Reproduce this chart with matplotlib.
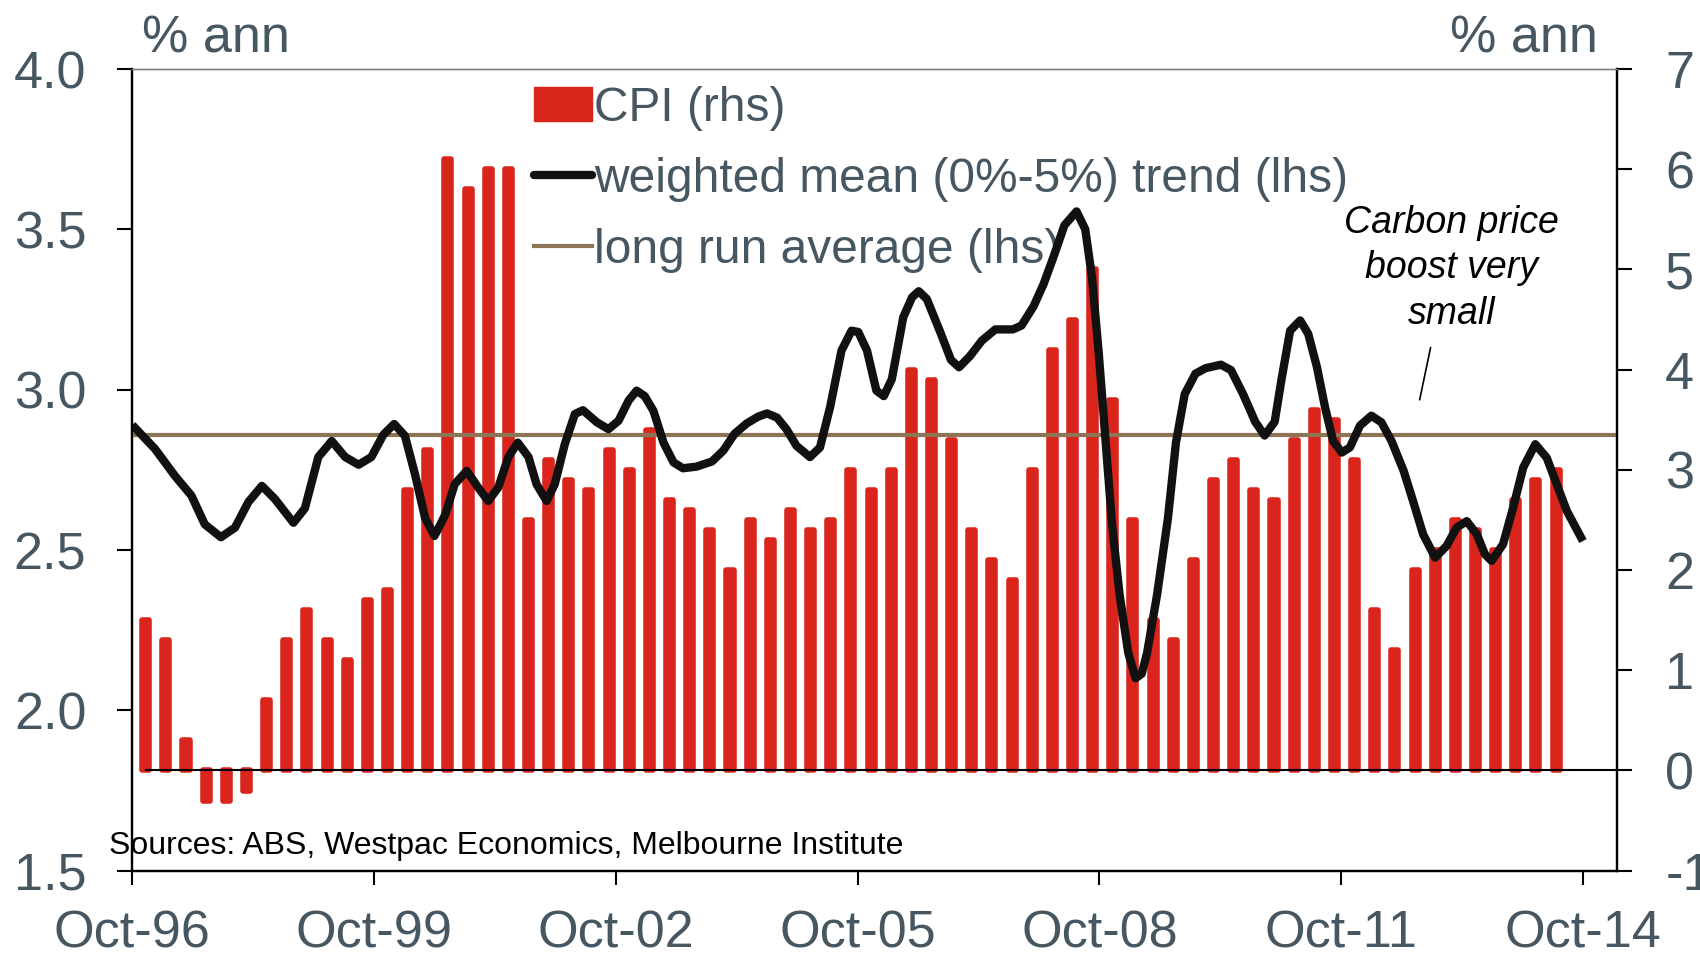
"""
inflation.py

Plot annual CPI against the weighted mean trend inflation gauge.
"""
import numpy as np
import pandas as pd
from matplotlib import pyplot as plt
from matplotlib import ticker
from matplotlib.lines import Line2D
from matplotlib.patches import Patch

plt.rcParams["font.family"] = "Liberation Sans"
plt.rcParams["axes.unicode_minus"] = False

text_colour = "#475762"
cpi_colour = "#da251d"
trend_colour = "#111111"
average_colour = "#8c7455"

long_run_average = 2.86
x_max = 221  # months after Oct-96 at the right edge

# annual CPI (% ann), quarterly from Dec-96 to Jun-14
cpi = pd.Series(
    [1.5, 1.3, 0.3, -0.3, -0.3, -0.2, 0.7, 1.3, 1.6, 1.3, 1.1, 1.7, 1.8, 2.8,
     3.2, 6.1, 5.8, 6.0, 6.0, 2.5, 3.1, 2.9, 2.8, 3.2, 3.0, 3.4, 2.7, 2.6,
     2.4, 2.0, 2.5, 2.3, 2.6, 2.4, 2.5, 3.0, 2.8, 3.0, 4.0, 3.9, 3.3, 2.4,
     2.1, 1.9, 3.0, 4.2, 4.5, 5.0, 3.7, 2.5, 1.5, 1.3, 2.1, 2.9, 3.1, 2.8,
     2.7, 3.3, 3.6, 3.5, 3.1, 1.6, 1.2, 2.0, 2.2, 2.5, 2.4, 2.2, 2.7, 2.9,
     3.0]
)
cpi.index = np.arange(len(cpi)) * 3 + 2  # Dec-96 is two months after Oct-96

trend = pd.DataFrame(
    [(0, 2.89), (3.4, 2.815), (6.4, 2.73), (8.8, 2.67), (10.8, 2.58),
     (13.2, 2.54), (15.3, 2.57), (17.3, 2.65), (19.3, 2.70), (21.2, 2.66),
     (24.0, 2.585), (25.7, 2.63), (27.7, 2.79), (29.7, 2.84), (31.7, 2.79),
     (33.7, 2.766), (35.6, 2.79), (37.4, 2.86), (39.0, 2.893), (40.6, 2.856),
     (42.1, 2.736), (43.6, 2.60), (45.0, 2.544), (46.6, 2.61), (48.0, 2.705),
     (49.8, 2.747), (51.5, 2.695), (53.0, 2.653), (54.5, 2.695), (56.0, 2.79),
     (57.4, 2.835), (59.0, 2.79), (60.2, 2.705), (61.7, 2.653), (62.9, 2.705),
     (64.4, 2.83), (65.9, 2.924), (67.1, 2.936), (69.2, 2.898), (70.9, 2.877),
     (72.4, 2.903), (73.9, 2.966), (75.1, 2.997), (76.3, 2.98), (77.6, 2.934),
     (79.1, 2.835), (80.6, 2.773), (82.0, 2.755), (84.0, 2.76), (86.3, 2.776),
     (88.0, 2.81), (89.7, 2.863), (91.5, 2.895), (93.2, 2.916), (94.5, 2.926),
     (96.0, 2.913), (97.4, 2.877), (98.9, 2.825), (100.9, 2.79), (102.4, 2.82),
     (103.9, 2.945), (105.6, 3.122), (107.1, 3.184), (108.1, 3.18),
     (109.4, 3.122), (110.8, 2.997), (111.9, 2.98), (113.1, 3.033),
     (114.8, 3.226), (116.1, 3.288), (117.1, 3.307), (118.3, 3.283),
     (120.3, 3.18), (121.9, 3.093), (123.1, 3.07), (124.7, 3.104),
     (126.5, 3.153), (128.5, 3.188), (131.1, 3.188), (132.4, 3.20),
     (134.2, 3.26), (135.7, 3.33), (137.2, 3.416), (138.8, 3.513),
     (140.6, 3.556), (141.9, 3.50), (142.9, 3.35), (143.9, 3.115),
     (144.9, 2.846), (145.9, 2.577), (147.0, 2.362), (148.3, 2.179),
     (149.4, 2.10), (150.3, 2.114), (151.1, 2.179), (152.6, 2.362),
     (154.2, 2.598), (155.4, 2.835), (156.7, 2.986), (158.3, 3.05),
     (159.8, 3.067), (162.1, 3.078), (163.6, 3.061), (165.4, 2.986),
     (167.2, 2.90), (168.6, 2.857), (170.1, 2.90), (171.1, 3.03),
     (172.4, 3.184), (173.9, 3.216), (175.1, 3.174), (176.4, 3.07),
     (177.6, 2.945), (178.8, 2.84), (180.1, 2.804), (181.3, 2.82),
     (182.8, 2.888), (184.5, 2.919), (186.0, 2.898), (187.5, 2.84),
     (189.3, 2.747), (190.7, 2.653), (192.2, 2.549), (194.0, 2.476),
     (195.7, 2.513), (197.2, 2.57), (198.7, 2.59), (200.2, 2.549),
     (201.4, 2.487), (202.4, 2.466), (204.1, 2.518), (205.6, 2.632),
     (207.1, 2.757), (208.9, 2.83), (210.6, 2.788), (212.1, 2.705),
     (213.6, 2.622), (216.0, 2.528)],
    columns=["month", "value"],
)


def month_label(x, pos):
    """Format x axis months after Oct-96 as Oct-yy"""
    return "Oct-{:02d}".format((96 + int(round(x / 12))) % 100)


def style_spines(ax):
    """Black frame with a thin grey top edge."""
    for side in ["left", "right", "bottom"]:
        ax.spines[side].set_color("black")
        ax.spines[side].set_linewidth(1.6)
    ax.spines["top"].set_color("#808080")
    ax.spines["top"].set_linewidth(1.0)


if __name__ == "__main__":
    plt.figure(1, figsize=(17, 9.59), dpi=100)
    plt.subplot(111)
    plt.subplots_adjust(left=0.0778, right=0.9509, bottom=0.0921, top=0.928)

    ax = plt.gca()
    ax2 = ax.twinx()
    ax.set_zorder(ax2.get_zorder() + 1)  # lines over the bars
    ax.patch.set_visible(False)

    # right axis - CPI bars

    ax2.bar(
        cpi.index,
        cpi.values,
        width=1.05,
        color=cpi_colour,
        edgecolor=cpi_colour,
        linewidth=4,
        joinstyle="round",
    )
    ax2.axhline(0, xmin=cpi.index[0] / x_max, color="black", linewidth=1.5)
    ax2.set_ylim([-1, 7])
    ax2.yaxis.set_major_locator(ticker.MultipleLocator(1))
    ax2.yaxis.set_major_formatter(ticker.FormatStrFormatter("%d"))
    ax2.tick_params(axis="y", length=11, width=1.5, pad=24, labelsize=37.5,
                    labelcolor=text_colour)

    # left axis - trend and long run average

    ax.axhline(long_run_average, color=average_colour, linewidth=3)
    ax.plot(trend["month"], trend["value"], color=trend_colour, linewidth=6,
            solid_joinstyle="round", solid_capstyle="butt")
    ax.set_ylim([1.5, 4.0])
    ax.set_xlim([0, x_max])
    ax.yaxis.set_major_locator(ticker.MultipleLocator(0.5))
    ax.yaxis.set_major_formatter(ticker.FormatStrFormatter("%.1f"))
    ax.xaxis.set_major_locator(ticker.MultipleLocator(36))
    ax.xaxis.set_major_formatter(month_label)
    ax.tick_params(axis="y", length=11, width=1.5, pad=22, labelsize=37.5,
                   labelcolor=text_colour)
    ax.tick_params(axis="x", length=10, width=1.5, pad=18, labelsize=37.5,
                   labelcolor=text_colour)

    style_spines(ax)
    style_spines(ax2)

    ax.text(0.0065, 1.037, "% ann", transform=ax.transAxes, fontsize=37.5,
            color=text_colour, ha="left", va="center")
    ax.text(0.9875, 1.037, "% ann", transform=ax.transAxes, fontsize=37.5,
            color=text_colour, ha="right", va="center")

    ax.text(196.4, 3.378, "Carbon price\nboost very\nsmall", fontsize=27,
            style="italic", ha="center", va="center", linespacing=1.35)
    ax.annotate("", xy=(191.6, 2.96), xytext=(193.4, 3.14),
                arrowprops=dict(arrowstyle="-", color="black", linewidth=1.2))

    ax.text(-0.0154, 0.0312, "Sources: ABS, Westpac Economics, Melbourne Institute",
            transform=ax.transAxes, fontsize=23, ha="left", va="center")

    handles = [
        Patch(facecolor=cpi_colour, edgecolor=cpi_colour),
        Line2D([], [], color=trend_colour, linewidth=6, solid_capstyle="round"),
        Line2D([], [], color=average_colour, linewidth=3),
    ]
    labels = ["CPI (rhs)", "weighted mean (0%-5%) trend (lhs)", "long run average (lhs)"]
    legend = ax2.legend(
        handles,
        labels,
        loc="upper left",
        bbox_to_anchor=(0.271, 0.979),
        borderaxespad=0,
        borderpad=0,
        frameon=False,
        fontsize=34.5,
        handlelength=1.2,
        handletextpad=0.05,
        labelspacing=0.54,
    )
    for text in legend.get_texts():
        text.set_color(text_colour)

    plt.savefig("out.png", dpi=100)
